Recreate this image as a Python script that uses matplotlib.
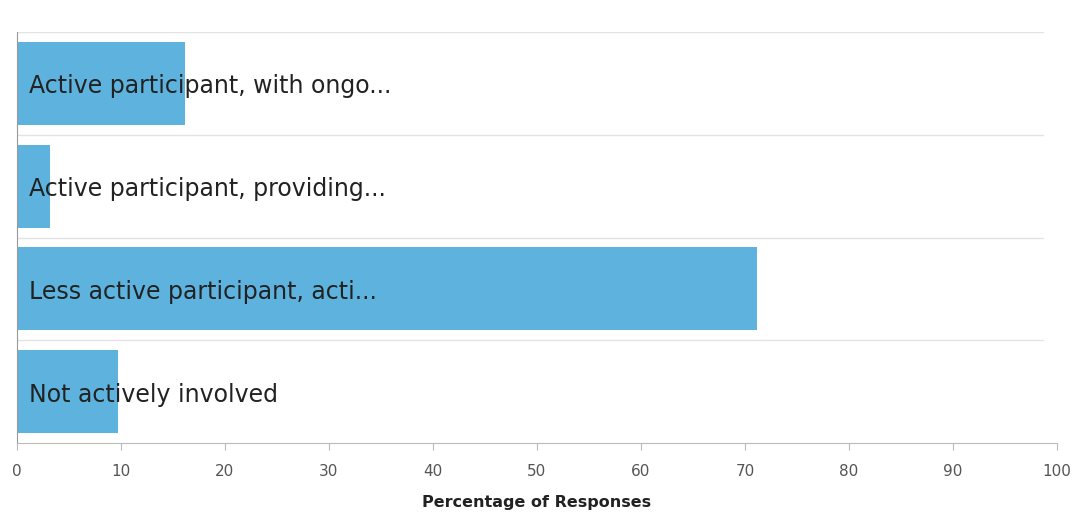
import numpy as np
from matplotlib import pyplot as plt

plt.rcParams['font.family'] = ['DejaVu Sans']

'''Survey data'''
categories = ['Active participant, with ongo...',
              'Active participant, providing...',
              'Less active participant, acti...',
              'Not actively involved']
percentages = [16.2, 3.2, 71.2, 9.7]
x_ticks = [0, 10, 20, 30, 40, 50, 60, 70, 80, 90, 100]

fig = plt.figure(figsize=(10.75, 5.15), dpi=100)
ax = fig.add_axes([17/1075, 72/515, 1040/1075, 411/515])

y = np.arange(len(categories))
ax.barh(y, percentages, height=0.81, color='#5eb3de', zorder=2)

for i, name in enumerate(categories):
    ax.text(1.2, i + 0.03, name, va='center', ha='left', fontsize=17,
            color='#222222', zorder=3)

# band separators
for b in np.arange(-0.5, len(categories) - 0.5, 1.0):
    ax.axhline(b, xmin=0, xmax=0.9865, color='#e3e3e3', lw=1, zorder=1)

ax.set_xlim(0, 100)
ax.set_ylim(len(categories) - 0.5, -0.5)
ax.set_xticks(x_ticks)
ax.set_yticks([])
ax.tick_params(axis='x', colors='#bbbbbb', length=5, width=0.8,
               labelcolor='#555555', labelsize=11, pad=10)

for s in ['top', 'right']:
    ax.spines[s].set_visible(False)
ax.spines['left'].set_color('#999999')
ax.spines['bottom'].set_color('#bbbbbb')

ax.set_xlabel('Percentage of Responses', fontsize=11.5, fontweight='bold',
              color='#222222', labelpad=12)

plt.savefig('out.png', dpi=100)
